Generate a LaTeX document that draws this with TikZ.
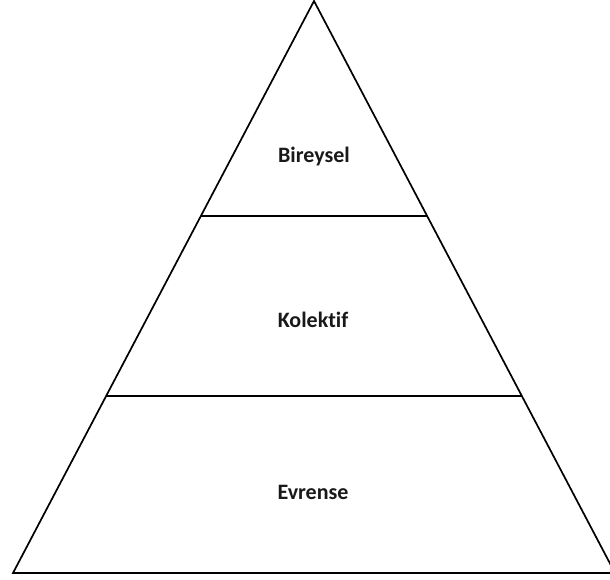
\documentclass[tikz,border=0pt]{standalone}
\usepackage{fontspec}
\setmainfont{Carlito}[Ligatures=NoCommon]
\begin{document}
\begin{tikzpicture}[x=1pt,y=-1pt,
  edge/.style={line width=1.7pt,line join=miter},
  divider/.style={line width=2.4pt},
  label/.style={font=\bfseries\fontsize{22}{26}\selectfont,text=black!90}]
\useasboundingbox (0,0) rectangle (610,580);
\clip (0,0) rectangle (610,580);
% outline of the pyramid
\coordinate (apex) at (314,1);
\coordinate (bl) at (13,573);
\coordinate (br) at (615,573);
\draw[edge] (apex) -- (bl) -- (br) -- cycle;
% tier boundaries
\coordinate (d1l) at (201,216);
\coordinate (d1r) at (427,216);
\coordinate (d2l) at (106,396);
\coordinate (d2r) at (522,396);
\draw[divider] (d1l) -- (d1r);
\draw[divider] (d2l) -- (d2r);
% tier labels
\node[label] (t1) at (314,157) {Bireysel};
\node[label] (t2) at (313,320) {Kolektif};
\node[label] (t3) at (313,492) {Evrense};
\end{tikzpicture}
\end{document}
